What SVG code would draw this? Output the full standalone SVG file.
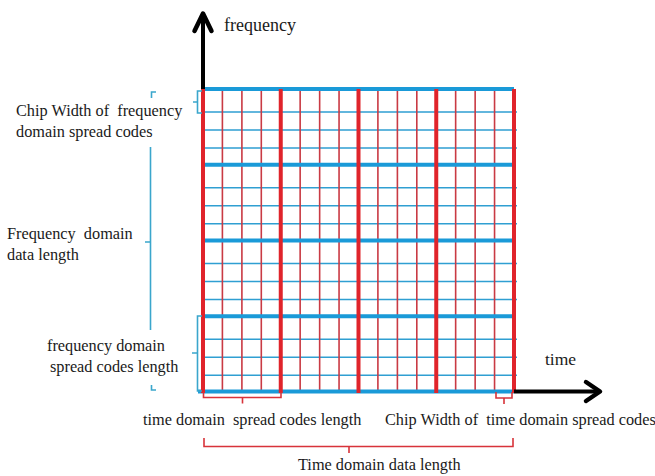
<svg xmlns="http://www.w3.org/2000/svg" width="655" height="476" viewBox="0 0 655 476">
<defs>
<style>
.t{font-family:"Liberation Serif","Times New Roman",serif;font-size:16.3px;fill:#1a1a1a;white-space:pre}
.rt{stroke:#c93a44;stroke-width:1.6;fill:none}
.rT{stroke:#e0242b;stroke-width:4;fill:none}
.bt{stroke:#2f9fd2;stroke-width:1.7;fill:none}
.bT{stroke:#1a9ad8;stroke-width:4.2;fill:none}
.ax{stroke:#000;stroke-width:4;fill:none}
.ah{stroke:#000;stroke-width:4.5;fill:none;stroke-linecap:round;stroke-linejoin:round}
.bb{stroke:#3aa6cc;stroke-width:1.6;fill:none}
.rb{stroke:#d8333a;stroke-width:1.6;fill:none}
</style>
</defs>
<rect width="655" height="476" fill="#fff"/>
<g id="grid">
<g class="bt">
<path d="M203,112H517M203,130H517M203,148H517"/>
<path d="M203,187.75H517M203,205.75H517M203,223.75H517"/>
<path d="M203,263.5H517M203,281.5H517M203,299.5H517"/>
<path d="M203,339.25H517M203,357.25H517M203,375.25H517"/>
</g>
<g class="rt">
<path d="M222.4,89V392M241.9,89V392M261.3,89V392"/>
<path d="M300.15,89V392M319.65,89V392M339.05,89V392"/>
<path d="M377.9,89V392M397.4,89V392M416.8,89V392"/>
<path d="M455.65,89V392M475.15,89V392M494.55,89V392"/>
</g>
<g class="bT">
<path d="M203,89H514M203,164.75H514M203,240.5H514M203,316.25H514M198,391.5H514"/>
</g>
<g class="rT">
<path d="M203,89V393M280.75,89V393M358.5,89V393M436.25,89V393M514,89V393"/>
</g>
</g>
<g id="axes">
<path class="ax" d="M203,89V15"/>
<path class="ah" d="M194.5,31L203,13.5L211.5,31"/>
<path class="ax" d="M514,391.5H598"/>
<path class="ah" d="M586,382L600,391.5L586,401"/>
</g>
<g id="connectors">
<path class="bb" d="M202,91H197.5V113H202M197.5,102H193"/>
<path class="bb" d="M156,92H151.5V98M150.5,147V330M150.5,242H145M151.5,385V390H156"/>
<path class="bb" d="M202,316H197.5V391H202M197.5,353H192"/>
<path class="rb" d="M203.5,392V397.5H281V392M242.5,397.5V403.5"/>
<path class="rb" d="M496,392V398H512V392M504,398V404"/>
<path class="rb" d="M204,438V446.5H513V438M349,446.5V453"/>
</g>
<g id="label-frequency"><text class="t" x="224" y="31" style="font-size:18px">frequency</text></g>
<g id="label-time"><text class="t" x="545" y="365" style="font-size:17.5px">time</text></g>
<g id="label-chip-freq"><text class="t" x="16" y="116">Chip Width of  frequency</text><text class="t" x="16" y="137">domain spread codes</text></g>
<g id="label-freq-data"><text class="t" x="7" y="239">Frequency  domain</text><text class="t" x="7" y="260">data length</text></g>
<g id="label-freq-spread"><text class="t" x="47" y="351">frequency domain</text><text class="t" x="50" y="372">spread codes length</text></g>
<g id="label-time-spread"><text class="t" x="143" y="425">time domain  spread codes length</text></g>
<g id="label-chip-time"><text class="t" x="385" y="425">Chip Width of  time domain spread codes</text></g>
<g id="label-time-data"><text class="t" x="298" y="470">Time domain data length</text></g>
</svg>
